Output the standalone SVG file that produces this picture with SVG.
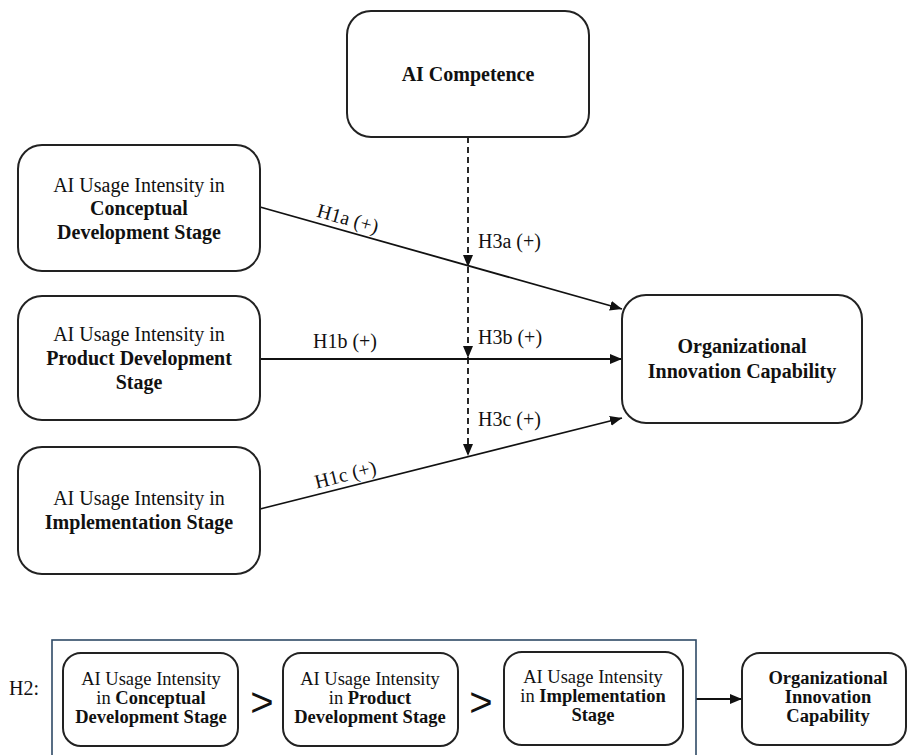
<svg xmlns="http://www.w3.org/2000/svg" width="908" height="755" viewBox="0 0 908 755">
<defs>
<marker id="arr" viewBox="0 0 12 10" refX="12" refY="5" markerWidth="12" markerHeight="10" markerUnits="userSpaceOnUse" orient="auto">
<path d="M0,0 L12,5 L0,10 Z" fill="#111"/>
</marker>
</defs>
<style>
.box{fill:#fff;stroke:#222;stroke-width:2}
.t{font-family:"Liberation Serif","Times New Roman",serif;font-size:20px;fill:#111;text-anchor:middle}
.s{font-family:"Liberation Serif","Times New Roman",serif;font-size:18.5px;fill:#111;text-anchor:middle}
.b{font-weight:bold}
.ln{stroke:#111;stroke-width:1.8;fill:none}
.dash{stroke:#111;stroke-width:1.8;fill:none;stroke-dasharray:6 4}
.lbl{font-family:"Liberation Serif","Times New Roman",serif;font-size:20px;fill:#111}
.gt{font-family:"Liberation Sans",Arial,sans-serif;font-size:40px;fill:#111;text-anchor:middle}
</style>
<rect width="908" height="755" fill="#fff"/>

<g id="connectors">
<line class="ln" x1="260" y1="207" x2="622" y2="309" marker-end="url(#arr)"/>
<line class="ln" x1="260" y1="359" x2="622" y2="359" marker-end="url(#arr)"/>
<line class="ln" x1="260" y1="509" x2="622" y2="418" marker-end="url(#arr)"/>
<line class="dash" x1="468" y1="137" x2="468" y2="267" marker-end="url(#arr)"/>
<line class="dash" x1="468" y1="267" x2="468" y2="358" marker-end="url(#arr)"/>
<line class="dash" x1="468" y1="358" x2="468" y2="456" marker-end="url(#arr)"/>
<line class="ln" x1="696" y1="699" x2="742" y2="699" marker-end="url(#arr)"/>
<text class="lbl" text-anchor="middle" transform="translate(346,225) rotate(15.7)">H1a (+)</text>
<text class="lbl" text-anchor="middle" x="345" y="348">H1b (+)</text>
<text class="lbl" text-anchor="middle" transform="translate(347,481) rotate(-14.1)">H1c (+)</text>
<text class="lbl" x="478" y="248">H3a (+)</text>
<text class="lbl" x="478" y="344">H3b (+)</text>
<text class="lbl" x="478" y="426">H3c (+)</text>
</g>

<g id="ai-competence">
<rect class="box" x="347" y="11" width="242" height="126" rx="24"/>
<text class="t b" x="468" y="81">AI Competence</text>
</g>

<g id="conceptual">
<rect class="box" x="18" y="145" width="242" height="126" rx="24"/>
<text class="t" x="139" y="192">AI Usage Intensity in</text>
<text class="t b" x="139" y="215">Conceptual</text>
<text class="t b" x="139" y="239">Development Stage</text>
</g>

<g id="product">
<rect class="box" x="18" y="296" width="242" height="124" rx="24"/>
<text class="t" x="139" y="341">AI Usage Intensity in</text>
<text class="t b" x="139" y="365">Product Development</text>
<text class="t b" x="139" y="389">Stage</text>
</g>

<g id="implementation">
<rect class="box" x="18" y="447" width="242" height="127" rx="24"/>
<text class="t" x="139" y="505">AI Usage Intensity in</text>
<text class="t b" x="139" y="529">Implementation Stage</text>
</g>

<g id="innovation">
<rect class="box" x="622" y="295" width="240" height="128" rx="24"/>
<text class="t b" x="742" y="353">Organizational</text>
<text class="t b" x="742" y="378">Innovation Capability</text>
</g>

<g id="h2-frame">
<text class="lbl" text-anchor="end" x="39" y="695">H2:</text>
<rect x="52" y="640" width="644" height="130" fill="none" stroke="#2f4a66" stroke-width="1.6"/>
</g>

<g id="h2-conceptual">
<rect class="box" x="63" y="653" width="175" height="93" rx="18"/>
<text class="s" x="151" y="685">AI Usage Intensity</text>
<text class="s" x="151" y="704">in <tspan class="b">Conceptual</tspan></text>
<text class="s b" x="151" y="723">Development Stage</text>
</g>

<text class="gt" x="262" y="716">&gt;</text>

<g id="h2-product">
<rect class="box" x="283" y="653" width="175" height="93" rx="18"/>
<text class="s" x="370" y="685">AI Usage Intensity</text>
<text class="s" x="370" y="704">in <tspan class="b">Product</tspan></text>
<text class="s b" x="370" y="723">Development Stage</text>
</g>

<text class="gt" x="481" y="716">&gt;</text>

<g id="h2-implementation">
<rect class="box" x="504" y="652" width="179" height="93" rx="18"/>
<text class="s" x="593" y="683">AI Usage Intensity</text>
<text class="s" x="593" y="702">in <tspan class="b">Implementation</tspan></text>
<text class="s b" x="593" y="721">Stage</text>
</g>

<g id="h2-innovation">
<rect class="box" x="742" y="653" width="164" height="92" rx="18"/>
<text class="s b" x="828" y="684">Organizational</text>
<text class="s b" x="828" y="703">Innovation</text>
<text class="s b" x="828" y="722">Capability</text>
</g>
</svg>
